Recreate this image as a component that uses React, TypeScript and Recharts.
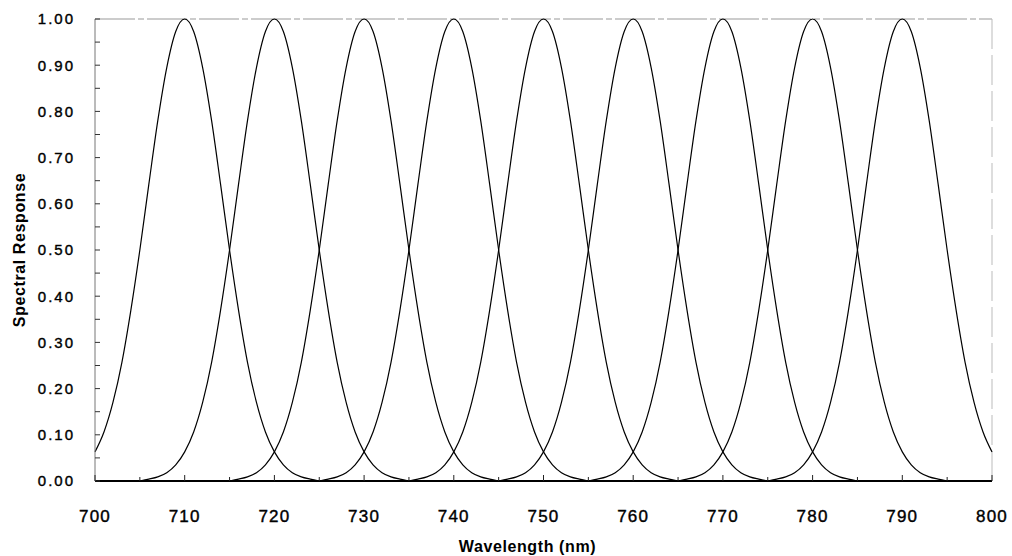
import React from 'react'
import { LineChart, Line, XAxis, YAxis, ReferenceLine } from 'recharts'

// filter band centres (nm)
const CENTERS = [710, 720, 730, 740, 750, 760, 770, 780, 790]

// offsets from the band centre (nm) and the response
const OFFSETS = [
  -15, -14, -13, -12, -11, -10, -9, -8, -7, -6, -5, -4, -3, -2, -1, 0,
  1, 2, 3, 4, 5, 6, 7, 8, 9, 10, 11, 12, 13, 14, 15,
]
const RESPONSE = [
  0.0, 0.004, 0.009, 0.018, 0.035, 0.063, 0.106, 0.17, 0.257, 0.37, 0.5, 0.642, 0.78, 0.895, 0.973, 1.0,
  0.973, 0.895, 0.78, 0.642, 0.5, 0.37, 0.257, 0.17, 0.106, 0.063, 0.035, 0.018, 0.009, 0.004, 0.0,
]

const X_TICKS = [700, 705, 710, 715, 720, 725, 730, 735, 740, 745, 750, 755, 760, 765, 770, 775, 780, 785, 790, 795, 800]
const Y_TICKS = [0, 0.05, 0.1, 0.15, 0.2, 0.25, 0.3, 0.35, 0.4, 0.45, 0.5, 0.55, 0.6, 0.65, 0.7, 0.75, 0.8, 0.85, 0.9, 0.95, 1.0]

const FONT = '"Liberation Sans", Arial, sans-serif'
const Y_MARGIN = 20
const X_MARGIN = 29

// one data set per band, kept inside the 700-800 window
const bands = CENTERS.map(center => ({
  center,
  data: OFFSETS.map((off, i) => ({ x: center + off, y: RESPONSE[i] })).filter(p => p.x >= 700 && p.x <= 800),
}))

function YTick(props: any) {
  const { x, y, payload } = props
  const v = payload.value as number
  const major = Math.round(v * 100) % 10 === 0
  const ax = x + Y_MARGIN
  return (
    <g>
      <line x1={ax} y1={y} x2={ax + 5} y2={y} stroke="#333" strokeWidth={1} />
      {major && (
        <text
          x={x}
          y={y}
          dy="0.36em"
          textAnchor="end"
          fontFamily={FONT}
          fontSize={15}
          letterSpacing={2}
          fill="#000"
          stroke="#000"
          strokeWidth={0.4}
        >
          {v.toFixed(2)}
        </text>
      )}
    </g>
  )
}

function XTick(props: any) {
  const { x, y, payload } = props
  const v = payload.value as number
  const major = v % 10 === 0
  const ay = y - X_MARGIN
  return (
    <g>
      <line x1={x} y1={ay} x2={x} y2={ay - (major ? 6 : 4)} stroke="#222" strokeWidth={1} />
      {major && (
        <text
          x={x}
          y={y}
          dy="0.71em"
          textAnchor="middle"
          fontFamily={FONT}
          fontSize={17}
          letterSpacing={1.2}
          fill="#000"
          stroke="#000"
          strokeWidth={0.4}
        >
          {v}
        </text>
      )}
    </g>
  )
}

export default function App() {
  return (
    <div style={{ position: 'absolute', left: 0, top: 0, background: '#fff' }}>
      <LineChart width={1012} height={556} margin={{ top: 19, right: 20, left: 0, bottom: 0 }}>
        <XAxis
          type="number"
          dataKey="x"
          domain={[700, 800]}
          ticks={X_TICKS}
          interval={0}
          tickSize={0}
          tickMargin={X_MARGIN}
          tick={XTick}
          height={75}
          axisLine={{ stroke: '#000', strokeWidth: 2 }}
          label={{
            value: 'Wavelength (nm)',
            position: 'insideBottom',
            offset: 4,
            dx: -16,
            style: { fontFamily: FONT, fontSize: 16, fontWeight: 'bold', letterSpacing: 0.6, fill: '#000' },
          }}
        />
        <YAxis
          type="number"
          dataKey="y"
          domain={[0, 1]}
          ticks={Y_TICKS}
          interval={0}
          tickSize={0}
          tickMargin={Y_MARGIN}
          tick={YTick}
          width={95}
          axisLine={{ stroke: '#777', strokeWidth: 1 }}
          label={{
            value: 'Spectral Response',
            angle: -90,
            position: 'insideLeft',
            offset: 19,
            style: { textAnchor: 'middle', fontFamily: FONT, fontSize: 16, fontWeight: 'bold', letterSpacing: 0.6, fill: '#000' },
          }}
        />
        <ReferenceLine y={1} stroke="#999" strokeWidth={1} strokeDasharray="40 3 6 3" />
        <ReferenceLine x={800} stroke="#bbb" strokeWidth={1} strokeDasharray="30 6" />
        {bands.map(b => (
          <Line
            key={b.center}
            data={b.data}
            dataKey="y"
            type="monotone"
            stroke="#000"
            strokeWidth={1.2}
            dot={false}
            activeDot={false}
            isAnimationActive={false}
          />
        ))}
      </LineChart>
    </div>
  )
}
